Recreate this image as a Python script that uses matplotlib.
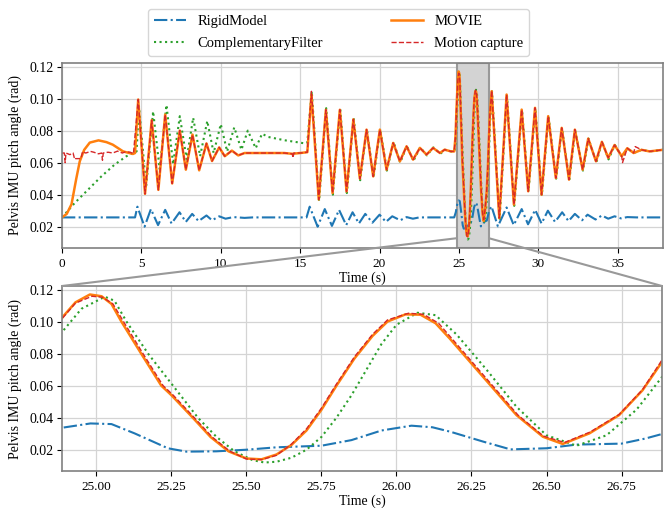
import numpy as np
import matplotlib
matplotlib.use('Agg')
import matplotlib.pyplot as plt
from matplotlib.patches import ConnectionPatch

plt.rcParams['font.family'] = ['Liberation Serif', 'DejaVu Serif']
plt.rcParams['font.size'] = 10

# --- data (time in s, angle in rad) ---
movie_t = [0, 0.3, 0.6, 0.9, 1.12, 1.4, 1.75, 2.3, 2.8, 3.2, 3.85, 4.47, 4.6,
           4.8, 5.23, 5.65, 6.07, 6.5, 6.94, 7.42, 7.8, 8.22, 8.64, 9.1, 9.45,
           9.9, 10.25, 10.7, 11.1, 11.5, 12.3, 13.0, 14.0, 14.5, 15.0, 15.45,
           15.71, 16.17, 16.62, 17.04, 17.5, 17.92, 18.35, 18.76, 19.18, 19.6,
           20.02, 20.44, 20.86, 21.28, 21.7, 22.11, 22.54, 22.96, 23.37, 23.8,
           24.1, 24.5, 24.7, 24.78, 24.84, 24.885, 24.93, 24.978, 25.017, 25.05,
           25.083, 25.149, 25.216, 25.25, 25.321, 25.38, 25.44, 25.5, 25.55,
           25.6, 25.65, 25.7, 25.75, 25.8, 25.86, 25.92, 25.97, 26.03, 26.08,
           26.13, 26.178, 26.289, 26.4, 26.488, 26.554, 26.643, 26.742, 26.82,
           26.885, 26.95, 27.06, 27.54, 28.0, 28.46, 28.95, 29.36, 29.79, 30.2,
           30.62, 31.1, 31.47, 31.93, 32.3, 32.79, 33.14, 33.63, 34.0, 34.4,
           34.8, 35.25, 35.6, 36.0, 36.5, 37.0, 37.85]
movie_v = [0.0258, 0.028, 0.034, 0.050, 0.0608, 0.068, 0.0725, 0.0739, 0.0728,
           0.0712, 0.067, 0.0654, 0.066,
           0.0994, 0.0405, 0.0865, 0.043, 0.090, 0.047, 0.080, 0.0556, 0.0775,
           0.0552, 0.072, 0.061, 0.0695, 0.064, 0.0675, 0.0645, 0.066, 0.066,
           0.066, 0.066, 0.0655, 0.066, 0.0665,
           0.1025, 0.037, 0.093, 0.041, 0.093, 0.042, 0.087, 0.050, 0.0806,
           0.0514, 0.0806, 0.0556, 0.0723, 0.0608, 0.0702, 0.0619, 0.0692,
           0.065, 0.0692, 0.066, 0.0681, 0.067, 0.067, 0.076, 0.092, 0.1024,
           0.112, 0.1169, 0.1158, 0.111, 0.100, 0.080, 0.060, 0.054, 0.040,
           0.028, 0.019, 0.0145, 0.014, 0.017, 0.023, 0.032, 0.045, 0.060,
           0.077, 0.091, 0.100, 0.1045, 0.1043, 0.099, 0.0893, 0.0654, 0.0416,
           0.0281, 0.0236, 0.0302, 0.0416, 0.0571, 0.0748, 0.090,
           0.1046, 0.0254, 0.1025, 0.0338, 0.0931, 0.0421, 0.0942, 0.040,
           0.089, 0.0504, 0.0817, 0.0494, 0.0806, 0.0556, 0.075, 0.0608,
           0.073, 0.063, 0.071, 0.064, 0.069, 0.066, 0.068, 0.067, 0.068]

mocap_t = [0, 0.15, 0.2, 0.25, 0.5, 0.7, 0.8, 0.85, 1.2, 1.3, 1.35, 1.5, 1.8,
           2.0, 2.3, 2.5, 2.55, 2.6, 2.9, 3.2, 3.5, 3.8, 4.0, 4.3, 4.5,
           4.8, 5.23, 5.65, 6.07, 6.5, 6.94, 7.42, 7.8, 8.22, 8.64, 9.1, 9.45,
           9.9, 10.25, 10.7, 11.1, 11.5, 12.3, 13.0, 14.0, 14.5, 14.55,
           14.6, 15.0, 15.45,
           15.71, 16.17, 16.62, 17.04, 17.5, 17.92, 18.35, 18.76, 19.18, 19.6,
           20.02, 20.44, 20.86, 21.28, 21.7, 22.11, 22.54, 22.96, 23.37, 23.8,
           24.1, 24.5, 24.7, 24.78, 24.84, 24.885, 24.93, 24.985, 25.02, 25.055,
           25.09, 25.155, 25.222, 25.256, 25.326, 25.385, 25.445, 25.5, 25.55,
           25.6, 25.65, 25.7, 25.75, 25.8, 25.86, 25.92, 25.97, 26.04, 26.09,
           26.14, 26.185, 26.295, 26.405, 26.49, 26.56, 26.645, 26.742, 26.82,
           26.885, 26.95, 27.06, 27.54, 28.0, 28.46, 28.95, 29.36, 29.79, 30.2,
           30.62, 31.1, 31.47, 31.93, 32.3, 32.79, 33.14, 33.63, 34.0, 34.4,
           34.8, 35.25, 35.3, 35.6, 36.0, 36.1, 36.5, 37.0, 37.85]
mocap_v = [0.066, 0.066, 0.060, 0.066, 0.065, 0.066, 0.062, 0.0625, 0.0625,
           0.067, 0.0665, 0.066, 0.067, 0.0665, 0.0655, 0.066, 0.0615, 0.066,
           0.0665, 0.066, 0.0672, 0.066, 0.0668, 0.0665, 0.0655,
           0.0994, 0.0405, 0.0865, 0.043, 0.090, 0.047, 0.080, 0.0556, 0.0775,
           0.0552, 0.072, 0.061, 0.0695, 0.064, 0.0675, 0.0645, 0.066, 0.066,
           0.066, 0.066, 0.0655, 0.063, 0.066, 0.066, 0.0665,
           0.1045, 0.037, 0.093, 0.041, 0.093, 0.042, 0.087, 0.050, 0.0806,
           0.0514, 0.0806, 0.0556, 0.0723, 0.0608, 0.0702, 0.0619, 0.0692,
           0.065, 0.0692, 0.066, 0.0681, 0.067, 0.067, 0.076, 0.092, 0.1018,
           0.1115, 0.1158, 0.1152, 0.111, 0.100, 0.080, 0.060, 0.054, 0.040,
           0.028, 0.019, 0.0142, 0.0138, 0.0165, 0.0235, 0.033, 0.046, 0.061,
           0.078, 0.092, 0.101, 0.1052, 0.1045, 0.099, 0.0893, 0.0654, 0.0416,
           0.0285, 0.0245, 0.031, 0.042, 0.0575, 0.076, 0.091,
           0.1050, 0.0254, 0.1025, 0.0338, 0.0931, 0.0421, 0.0942, 0.040,
           0.089, 0.0504, 0.0817, 0.0494, 0.0806, 0.0556, 0.075, 0.0608,
           0.073, 0.063, 0.071, 0.064, 0.060, 0.069, 0.066, 0.070, 0.068,
           0.067, 0.068]

comp_t = [0, 0.8, 1.64, 2.48, 3.32, 4.06, 4.48, 4.7,
          4.85, 5.3, 5.74, 6.15, 6.58, 7.0, 7.42, 7.85, 8.26, 8.7, 9.15, 9.55,
          10.0, 10.4, 10.85, 11.3, 11.7, 12.2, 12.6, 13.0, 14.0, 15.3, 15.45,
          15.73, 16.19, 16.64, 17.06, 17.52, 17.94, 18.37, 18.78, 19.2, 19.62,
          20.04, 20.46, 20.88, 21.3, 21.72, 22.13, 22.56, 22.98, 23.39, 23.82,
          24.12, 24.5, 24.72, 24.8, 24.885, 24.95, 25.028, 25.06, 25.1, 25.172,
          25.255, 25.338, 25.4, 25.46, 25.52, 25.56, 25.6, 25.65, 25.7, 25.75,
          25.8, 25.85, 25.9, 25.95, 26.0, 26.07, 26.13, 26.2, 26.3, 26.4, 26.5,
          26.6, 26.7, 26.8, 26.885, 26.96, 27.08, 27.56, 28.02, 28.48,
          28.97, 29.38, 29.81, 30.22, 30.64, 31.12, 31.49, 31.95, 32.32, 32.81,
          33.16, 33.65, 34.02, 34.42, 34.82, 35.27, 35.62, 36.0, 36.5, 37.0,
          37.85]
comp_v = [0.0258, 0.0348, 0.0431, 0.0514, 0.0588, 0.064, 0.066, 0.067,
          0.095, 0.045, 0.092, 0.056, 0.096, 0.059, 0.089, 0.062, 0.088, 0.064,
          0.086, 0.066, 0.084, 0.067, 0.082, 0.068, 0.080, 0.069, 0.078, 0.076,
          0.074, 0.072, 0.0725,
          0.1046, 0.036, 0.094, 0.040, 0.094, 0.041, 0.088, 0.049, 0.081,
          0.0505, 0.081, 0.055, 0.073, 0.060, 0.0705, 0.061, 0.0695, 0.0645,
          0.0695, 0.0655, 0.068, 0.067, 0.067, 0.074, 0.0934, 0.108, 0.1155,
          0.113, 0.100, 0.080, 0.060, 0.040, 0.028, 0.019, 0.0135, 0.012,
          0.0125, 0.015, 0.020, 0.028, 0.040, 0.054, 0.070, 0.086, 0.098,
          0.1055, 0.104, 0.092, 0.070, 0.0468, 0.029, 0.0225, 0.029, 0.045,
          0.0654, 0.085, 0.1045, 0.025, 0.1025, 0.033, 0.093, 0.042, 0.094,
          0.0395, 0.089, 0.050, 0.0815, 0.049, 0.080, 0.055, 0.075, 0.060,
          0.073, 0.062, 0.071, 0.0635, 0.069, 0.066, 0.068, 0.067, 0.068]

rigid_t = [0, 4.6, 4.75, 5.2, 5.6, 6.05, 6.5, 6.9, 7.4, 7.8, 8.2, 8.6, 9.1,
           9.45, 9.9, 10.3, 10.8, 11.5, 12.0, 15.4, 15.6, 16.1, 16.55, 17.0,
           17.45, 17.9, 18.3, 18.7, 19.1, 19.55, 20.0, 20.4, 20.8, 21.3, 21.7,
           22.1, 22.5, 24.7, 24.8, 24.885, 24.98, 25.05, 25.127, 25.238, 25.3,
           25.4, 25.5, 25.6, 25.75, 25.85, 25.95, 26.05, 26.12, 26.18, 26.29,
           26.38, 26.5, 26.6, 26.75, 26.83, 26.885, 27.05, 27.45, 28.0, 28.45,
           28.95, 29.35, 29.8, 30.2, 30.6, 31.05, 31.5, 31.9, 32.3, 32.75,
           33.1, 33.6, 34.0, 34.4, 34.8, 35.2, 35.6, 36.2, 37.85]
rigid_v = [0.0258, 0.0258, 0.0325, 0.020, 0.031, 0.021, 0.0305, 0.022, 0.029,
           0.023, 0.028, 0.0235, 0.027, 0.024, 0.0265, 0.025, 0.026, 0.0255,
           0.0258, 0.0258, 0.0325, 0.020, 0.031, 0.0205, 0.0305, 0.021, 0.029,
           0.022, 0.028, 0.0225, 0.0275, 0.023, 0.0265, 0.024, 0.026, 0.025,
           0.0258, 0.0258, 0.029, 0.0337, 0.0364, 0.036, 0.0302, 0.0209, 0.0188,
           0.019, 0.020, 0.0215, 0.0225, 0.026, 0.032, 0.035, 0.034, 0.0312,
           0.025, 0.0202, 0.0209, 0.0232, 0.0238, 0.027, 0.0298, 0.0327,
           0.0202, 0.032, 0.021, 0.031, 0.0215, 0.0305, 0.022, 0.030, 0.023,
           0.029, 0.0235, 0.028, 0.024, 0.0275, 0.0245, 0.027, 0.025, 0.0265,
           0.0252, 0.026, 0.0258, 0.0258]

zoom_lo, zoom_hi = 24.885, 26.885
span_lo, span_hi = 24.85, 26.89
y_lim = (0.0067, 0.1222)

fig = plt.figure(figsize=(6.65, 5.08), dpi=100)
ax1 = fig.add_axes([0.0932, 0.5118, 0.9038, 0.3642])
ax2 = fig.add_axes([0.0932, 0.0728, 0.9023, 0.3642])

for ax in (ax1, ax2):
    ax.plot(rigid_t, rigid_v, color='C0', ls='-.', lw=1.5, label='RigidModel')
    ax.plot(comp_t, comp_v, color='C2', ls=':', lw=1.5, label='ComplementaryFilter')
    ax.plot(movie_t, movie_v, color='C1', ls='-', lw=1.8, label='MOVIE',
            solid_joinstyle='round')
    ax.plot(mocap_t, mocap_v, color='C3', ls='--', lw=1.0, label='Motion capture')
    ax.grid(True, color='#d4d4d4', lw=0.9)
    ax.set_axisbelow(True)
    ax.set_ylim(*y_lim)
    ax.set_yticks([0.02, 0.04, 0.06, 0.08, 0.10, 0.12])
    ax.tick_params(axis='x', labelsize=9.5)
    ax.tick_params(axis='y', labelsize=10, pad=2.5)
    ax.set_xlabel('Time (s)', labelpad=1)
    ax.set_ylabel('Pelvis IMU pitch angle (rad)', labelpad=5)
    for s in ax.spines.values():
        s.set_color('#808080')
        s.set_linewidth(1.2)

ax1.set_xlim(0, 37.85)
ax1.set_xticks([0, 5, 10, 15, 20, 25, 30, 35])
ax2.set_xlim(zoom_lo, zoom_hi)
ax2.set_xticks([25.0, 25.25, 25.5, 25.75, 26.0, 26.25, 26.5, 26.75])
ax2.set_xticklabels(['25.00', '25.25', '25.50', '25.75', '26.00', '26.25', '26.50', '26.75'])

ax1.axvspan(span_lo, span_hi, facecolor='#d3d3d3', edgecolor='#999999', lw=1.5, zorder=1.5)

for xa, xb in ((span_lo, 0), (span_hi, 1)):
    con = ConnectionPatch(xyA=(xa, 0.0128), coordsA=ax1.transData,
                          xyB=(xb, 1), coordsB=ax2.transAxes,
                          color='#999999', lw=1.5)
    fig.add_artist(con)

fig.legend(*ax1.get_legend_handles_labels(), loc='upper center',
           bbox_to_anchor=(0.509, 0.9967), ncol=2, columnspacing=4.65,
           handlelength=2.2, labelspacing=0.6, fontsize=10.5,
           edgecolor='#cccccc', fancybox=True)

fig.savefig('out.png', dpi=100)
